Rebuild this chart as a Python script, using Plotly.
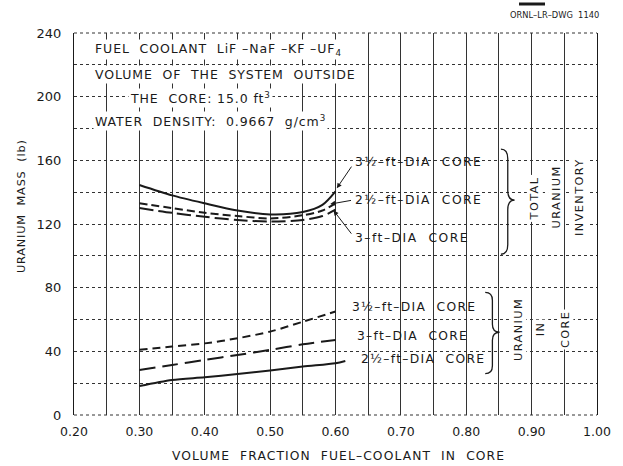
import plotly.graph_objects as go

# Volume fraction of fuel-coolant in core (x) and uranium mass in lb (y)
x_total = [0.30, 0.35, 0.40, 0.45, 0.50, 0.55, 0.58, 0.60]
total_35 = [144.5, 138.0, 133.0, 128.5, 126.0, 127.5, 132.0, 140.5]
total_25 = [133.0, 130.0, 127.0, 125.0, 123.5, 125.5, 128.5, 133.0]
total_30 = [130.0, 127.0, 124.5, 122.5, 121.5, 122.5, 125.0, 129.0]

x_core = [0.30, 0.35, 0.40, 0.45, 0.50, 0.55, 0.60]
core_35 = [41.0, 43.0, 45.0, 48.2, 52.4, 58.6, 65.0]
core_30 = [28.3, 31.4, 34.6, 37.7, 40.9, 44.4, 47.1]
x_core_25 = [0.30, 0.35, 0.40, 0.45, 0.50, 0.55, 0.60, 0.615]
core_25 = [18.2, 22.0, 23.7, 25.8, 27.9, 30.4, 32.5, 33.9]

x_ticks = [0.2, 0.3, 0.4, 0.5, 0.6, 0.7, 0.8, 0.9, 1.0]
x_ticktext = ["0.20", "0.30", "0.40", "0.50", "0.60", "0.70", "0.80", "0.90", "1.00"]
y_ticks = [0, 40, 80, 120, 160, 200, 240]
y_ticktext = ["0", "40", "80", "120", "160", "200", "240"]

FONT = "DejaVu Sans"
INK = "#1a1a1a"
GRID = "#333333"


def spaced(text, px=1.2):
    return f'<span style="letter-spacing:{px}px">{text}</span>'


fig = go.Figure()

series = [
    (x_total, total_35, "solid"),
    (x_total, total_25, "8px,4px"),
    (x_total, total_30, "14px,5px"),
    (x_core, core_35, "8px,5px"),
    (x_core, core_30, "16px,7px"),
    (x_core_25, core_25, "solid"),
]
for xs, ys, dash in series:
    fig.add_trace(go.Scatter(
        x=xs, y=ys, mode="lines",
        line=dict(color=INK, width=2, dash=dash, shape="spline", smoothing=0.8),
        hoverinfo="skip", showlegend=False,
    ))

annotations = []

# Descriptive block in the upper left
info_lines = [
    (0.229, 229.5, "FUEL  COOLANT  LiF \u2013NaF \u2013KF \u2013UF<sub>4</sub>"),
    (0.229, 213.8, "VOLUME  OF  THE  SYSTEM  OUTSIDE"),
    (0.283, 199.4, "THE  CORE: 15.0 ft<sup>3</sup>"),
    (0.229, 184.9, "WATER  DENSITY:  0.9667  g/cm<sup>3</sup>"),
]
for x, y, txt in info_lines:
    annotations.append(dict(
        x=x, y=y, xref="x", yref="y", text=spaced(txt, 0.9), showarrow=False,
        xanchor="left", yanchor="middle", bgcolor="white",
        font=dict(family=FONT, size=12.5, color=INK),
    ))

LABEL_FONT = dict(family=FONT, size=12.3, color=INK)

# Curve labels with leaders (total inventory)
total_labels = [
    (0.627, 159, "3\u00bd\u2013ft\u2013DIA  CORE", 0.602, 142.5, 157),
    (0.627, 135, "2\u00bd\u2013ft\u2013DIA  CORE", 0.592, 132.5, 135),
    (0.627, 111, "3\u2013ft\u2013DIA  CORE", 0.597, 128.5, 113),
]
for x, y, txt, tx, ty, ly in total_labels:
    annotations.append(dict(
        x=x, y=y, xref="x", yref="y", text=spaced(txt, 1.5), showarrow=False,
        xanchor="left", yanchor="middle", font=LABEL_FONT,
    ))
    annotations.append(dict(
        x=tx, y=ty, xref="x", yref="y", ax=x - 0.001, ay=ly,
        axref="x", ayref="y", text="", showarrow=True,
        arrowhead=2, arrowsize=1, arrowwidth=1, arrowcolor=INK,
    ))

# Curve labels (uranium in core)
core_labels = [
    (0.622, 68.0, "3\u00bd\u2013ft\u2013DIA  CORE"),
    (0.630, 49.7, "3\u2013ft\u2013DIA  CORE"),
    (0.636, 35.2, "2\u00bd\u2013ft\u2013DIA  CORE"),
]
for x, y, txt in core_labels:
    annotations.append(dict(
        x=x, y=y, xref="x", yref="y", text=spaced(txt, 1.3), showarrow=False,
        xanchor="left", yanchor="middle", font=LABEL_FONT,
    ))

# Rotated group captions beside the braces
group_text = [
    (0.905, 136, "TOTAL"),
    (0.938, 137, "URANIUM"),
    (0.974, 137, "INVENTORY"),
    (0.879, 54, "URANIUM"),
    (0.913, 54, "IN"),
    (0.951, 54, "CORE"),
]
for x, y, txt in group_text:
    annotations.append(dict(
        x=x, y=y, xref="x", yref="y", text=spaced(txt, 1.4), showarrow=False,
        textangle=-90, xanchor="center", yanchor="middle", bgcolor="white",
        font=dict(family=FONT, size=11.3, color=INK),
    ))

# Axis titles and drawing number
annotations += [
    dict(x=(338 - 74) / 523, y=(415 - 456) / 382, xref="paper", yref="paper",
         text=spaced("VOLUME  FRACTION  FUEL\u2013COOLANT  IN  CORE", 1.1),
         showarrow=False, xanchor="center", yanchor="middle",
         font=dict(family=FONT, size=12.3, color=INK)),
    dict(x=(21 - 74) / 523, y=(415 - 206) / 382, xref="paper", yref="paper",
         text=spaced("URANIUM  MASS  (lb)", 0.8), textangle=-90,
         showarrow=False, xanchor="center", yanchor="middle",
         font=dict(family=FONT, size=11.3, color=INK)),
    dict(x=(601 - 74) / 523, y=(415 - 15) / 382, xref="paper", yref="paper",
         text="ORNL\u2013LR\u2013DWG  1140", showarrow=False,
         xanchor="right", yanchor="middle",
         font=dict(family=FONT, size=8.3, color=INK)),
]


def brace(x0, x1, yt, yb, ym, r):
    xm = (x0 + x1) / 2
    return (f"M {x0},{yt} Q {xm},{yt} {xm},{yt - r} L {xm},{ym + r} "
            f"Q {xm},{ym} {x1},{ym} Q {xm},{ym} {xm},{ym - r} "
            f"L {xm},{yb + r} Q {xm},{yb} {x0},{yb}")


shapes = [
    dict(type="path", xref="x", yref="y", path=brace(0.853, 0.874, 167, 101, 135, 6),
         line=dict(color=INK, width=1.3)),
    dict(type="path", xref="x", yref="y", path=brace(0.829, 0.851, 77, 26, 52, 5),
         line=dict(color=INK, width=1.3)),
    # dotted border along top and bottom
    dict(type="line", xref="paper", yref="paper", x0=0, x1=1, y0=1, y1=1,
         line=dict(color=GRID, width=1, dash="dot")),
    dict(type="line", xref="paper", yref="paper", x0=0, x1=1, y0=0, y1=0,
         line=dict(color=GRID, width=1, dash="dot")),
    # mark above the drawing number
    dict(type="line", xref="paper", yref="paper",
         x0=(519 - 74) / 523, x1=(545 - 74) / 523,
         y0=(415 - 4) / 382, y1=(415 - 4) / 382,
         line=dict(color=INK, width=3)),
]

fig.update_layout(
    width=623, height=466,
    margin=dict(l=74, r=26, t=33, b=51),
    paper_bgcolor="white", plot_bgcolor="white",
    showlegend=False,
    annotations=annotations,
    shapes=shapes,
    font=dict(family=FONT, color=INK),
)

fig.update_xaxes(
    range=[0.2, 1.0], tickvals=x_ticks, ticktext=x_ticktext,
    showgrid=True, gridcolor=GRID, gridwidth=1,
    minor=dict(dtick=0.05, tick0=0.2, showgrid=True, gridcolor=GRID, gridwidth=1),
    showline=False, zeroline=False, ticks="", ticklabelstandoff=7,
    tickfont=dict(family=FONT, size=12.5, color=INK),
)
fig.update_yaxes(
    range=[0, 240], tickvals=y_ticks, ticktext=y_ticktext,
    showgrid=True, gridcolor=GRID, gridwidth=1, griddash="dot",
    minor=dict(dtick=20, tick0=0, showgrid=True, gridcolor=GRID, gridwidth=1, griddash="dot"),
    showline=True, linecolor=INK, linewidth=1.3, mirror=True,
    zeroline=False, ticks="", ticklabelstandoff=9,
    tickfont=dict(family=FONT, size=13, color=INK),
)

fig.write_html("out.html")
